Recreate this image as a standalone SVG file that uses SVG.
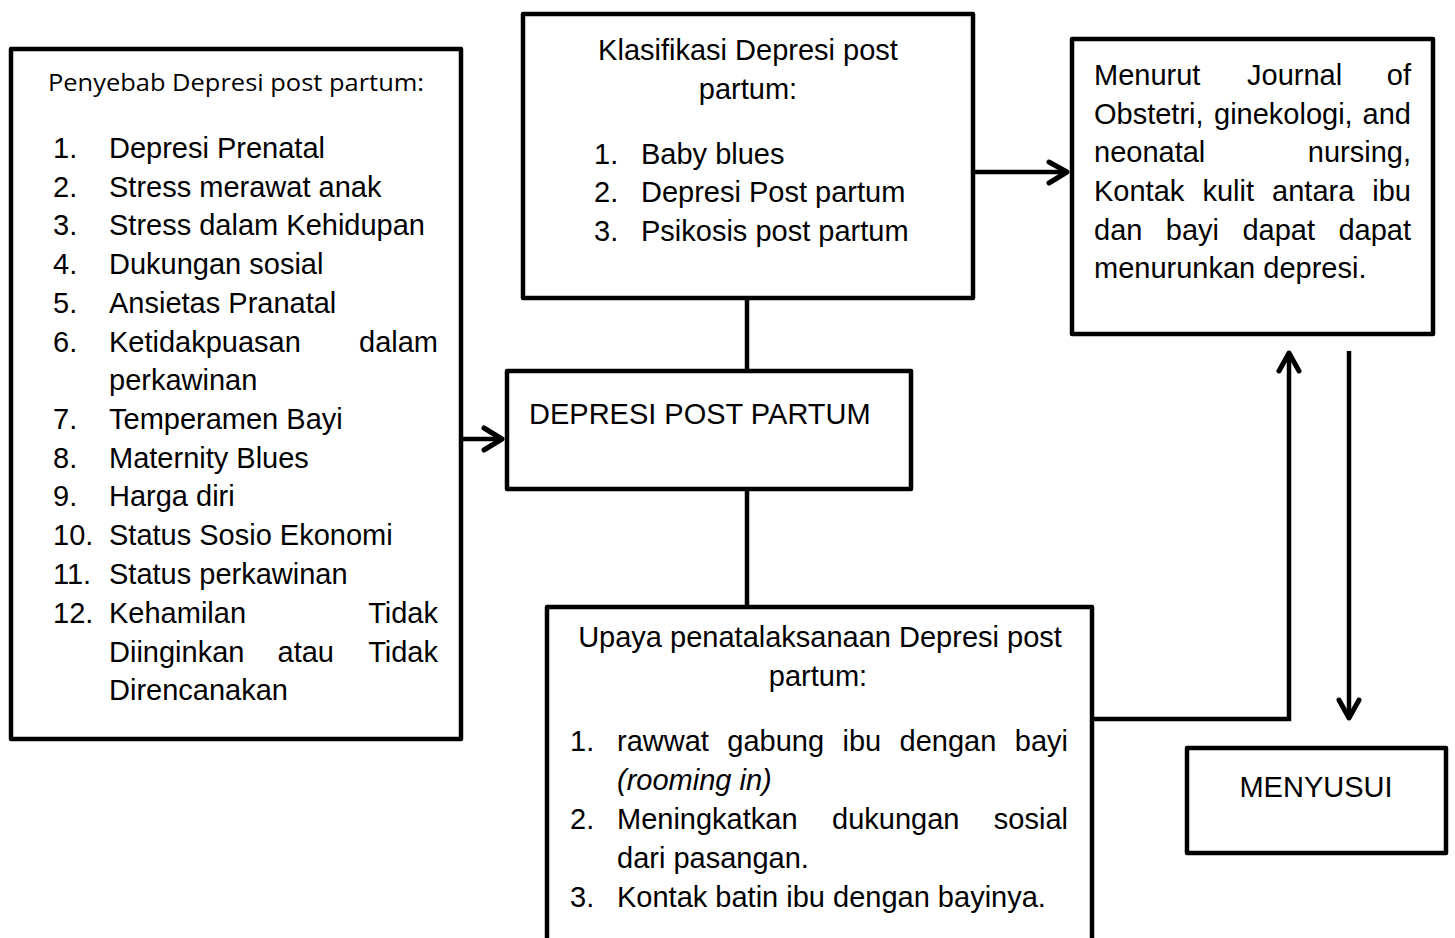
<svg xmlns="http://www.w3.org/2000/svg" width="1455" height="938" viewBox="0 0 1455 938">
<style>
.box{fill:#fff;stroke:#000;stroke-width:4.5;stroke-linejoin:round}
.t{font-family:"Liberation Sans",Arial,sans-serif;font-size:29px;fill:#000}
.c{text-anchor:middle}
.e{text-anchor:end}
.h{font-family:"Open Sans","Noto Sans",sans-serif;font-size:23.5px;fill:#000}
.ln{fill:none;stroke:#000;stroke-width:4.5;stroke-linecap:butt;stroke-linejoin:miter}
.hd{fill:none;stroke:#000;stroke-width:5;stroke-linecap:round;stroke-linejoin:round}
</style>
<rect width="1455" height="938" fill="#fff"/>
<g id="connectors">
<line class="ln" x1="456" y1="439" x2="501" y2="439"/>
<polyline class="hd" points="484,428 502,439 484,450"/>
<line class="ln" x1="975" y1="172" x2="1066" y2="172"/>
<polyline class="hd" points="1049,162 1067,172 1049,183"/>
<line class="ln" x1="747" y1="298" x2="747" y2="370"/>
<line class="ln" x1="747" y1="489" x2="747" y2="606"/>
<polyline class="ln" points="1092,719 1289,719 1289,354"/>
<polyline class="hd" points="1279,371 1289,353 1299,371"/>
<line class="ln" x1="1349" y1="351" x2="1349" y2="716"/>
<polyline class="hd" points="1339,700 1349,718 1359,700"/>
</g>
<g id="penyebab">
<rect class="box" x="11" y="49" width="450" height="690"/>
<text class="h" x="48" y="91" textLength="376" lengthAdjust="spacingAndGlyphs">Penyebab Depresi post partum:</text>
<g class="t">
<text x="53" y="158">1.</text><text x="109" y="158">Depresi Prenatal</text>
<text x="53" y="197">2.</text><text x="109" y="197">Stress merawat anak</text>
<text x="53" y="235">3.</text><text x="109" y="235">Stress dalam Kehidupan</text>
<text x="53" y="274">4.</text><text x="109" y="274">Dukungan sosial</text>
<text x="53" y="313">5.</text><text x="109" y="313">Ansietas Pranatal</text>
<text x="53" y="352">6.</text><text x="109" y="352">Ketidakpuasan</text><text class="e" x="438" y="352">dalam</text>
<text x="109" y="390">perkawinan</text>
<text x="53" y="429">7.</text><text x="109" y="429">Temperamen Bayi</text>
<text x="53" y="468">8.</text><text x="109" y="468">Maternity Blues</text>
<text x="53" y="506">9.</text><text x="109" y="506">Harga diri</text>
<text x="53" y="545">10.</text><text x="109" y="545">Status Sosio Ekonomi</text>
<text x="53" y="584">11.</text><text x="109" y="584">Status perkawinan</text>
<text x="53" y="623">12.</text><text x="109" y="623">Kehamilan</text><text class="e" x="438" y="623">Tidak</text>
<text x="109" y="662">Diinginkan</text><text x="277.5" y="662">atau</text><text class="e" x="438" y="662">Tidak</text>
<text x="109" y="700">Direncanakan</text>
</g>
</g>
<g id="klasifikasi">
<rect class="box" x="523" y="14" width="450" height="284"/>
<g class="t">
<text class="c" x="748" y="60">Klasifikasi Depresi post</text>
<text class="c" x="748" y="99">partum:</text>
<text x="594" y="164">1.</text><text x="641" y="164">Baby blues</text>
<text x="594" y="202">2.</text><text x="641" y="202">Depresi Post partum</text>
<text x="594" y="241">3.</text><text x="641" y="241">Psikosis post partum</text>
</g>
</g>
<g id="journal">
<rect class="box" x="1072" y="39" width="361" height="295"/>
<g class="t">
<text x="1094" y="85">Menurut</text><text x="1247" y="85">Journal</text><text class="e" x="1411" y="85">of</text>
<text x="1094" y="124">Obstetri,</text><text x="1214" y="124">ginekologi,</text><text class="e" x="1411" y="124">and</text>
<text x="1094" y="162">neonatal</text><text class="e" x="1411" y="162">nursing,</text>
<text x="1094" y="201">Kontak</text><text x="1202.4" y="201">kulit</text><text x="1272.1" y="201">antara</text><text class="e" x="1411" y="201">ibu</text>
<text x="1094" y="240">dan</text><text x="1165.8" y="240">bayi</text><text x="1242.4" y="240">dapat</text><text class="e" x="1411" y="240">dapat</text>
<text x="1094" y="278">menurunkan depresi.</text>
</g>
</g>
<g id="depresi">
<rect class="box" x="507" y="371" width="404" height="118"/>
<text class="t" x="529" y="424">DEPRESI POST PARTUM</text>
</g>
<g id="upaya">
<rect class="box" x="547" y="607" width="545" height="350"/>
<g class="t">
<text class="c" x="820" y="647">Upaya penatalaksanaan Depresi post</text>
<text class="c" x="818" y="686">partum:</text>
<text x="570" y="751">1.</text><text x="617" y="751">rawwat</text><text x="727.3" y="751">gabung</text><text x="842.5" y="751">ibu</text><text x="899.6" y="751">dengan</text><text class="e" x="1068" y="751">bayi</text>
<text x="617" y="790" font-style="italic">(rooming in)</text>
<text x="570" y="829">2.</text><text x="617" y="829">Meningkatkan</text><text x="832" y="829">dukungan</text><text class="e" x="1068" y="829">sosial</text>
<text x="617" y="868">dari pasangan.</text>
<text x="570" y="907">3.</text><text x="617" y="907">Kontak batin ibu dengan bayinya.</text>
</g>
</g>
<g id="menyusui">
<rect class="box" x="1187" y="748" width="259" height="105"/>
<text class="t c" x="1316" y="797">MENYUSUI</text>
</g>
</svg>
